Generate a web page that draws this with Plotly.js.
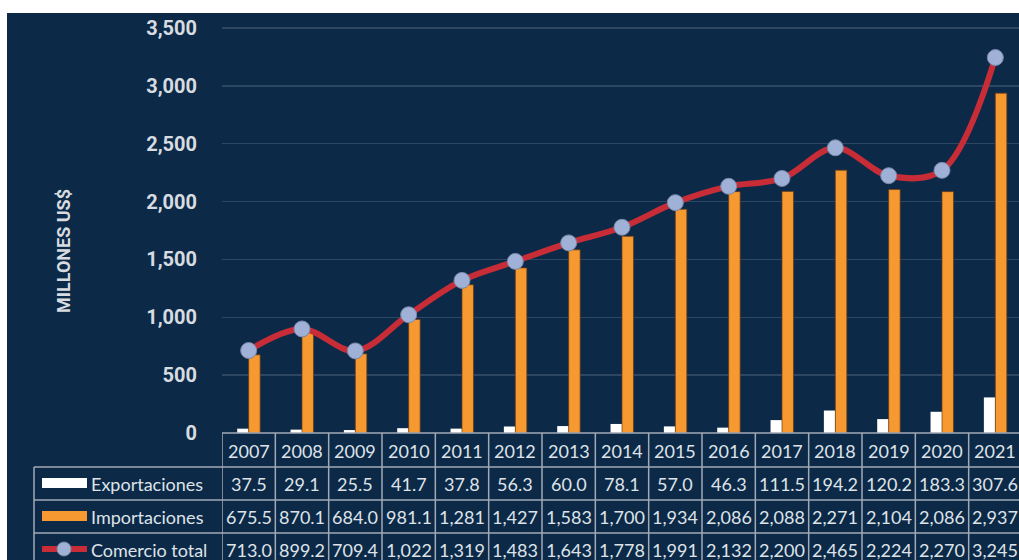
<!DOCTYPE html>
<html>
<head>
<meta charset="utf-8">
<script src="https://cdn.plot.ly/plotly-3.0.1.min.js"></script>
<style>
html,body{margin:0;padding:0;width:1019px;height:560px;overflow:hidden;background:#ffffff;}
#chart{position:absolute;left:7px;top:13px;width:1015px;height:547px;}
</style>
</head>
<body>
<div id="chart"></div>
<script>
const years = ['2007','2008','2009','2010','2011','2012','2013','2014','2015','2016','2017','2018','2019','2020','2021'];
const exportaciones = [37.5,29.1,25.5,41.7,37.8,56.3,60.0,78.1,57.0,46.3,111.5,194.2,120.2,183.3,307.6];
const importaciones = [675.5,870.1,684.0,981.1,1281,1427,1583,1700,1934,2086,2088,2271,2104,2086,2937];
const comercioTotal = [713.0,899.2,709.4,1022,1319,1483,1643,1778,1991,2132,2200,2465,2224,2270,3245];
const yTickVals = [0,500,1000,1500,2000,2500,3000,3500];
const yTickText = ['0','500','1,000','1,500','2,000','2,500','3,000','3,500'];
const rowLabels = ['Exportaciones','Importaciones','Comercio total'];

const BG = 'rgb(12,42,72)';
const ORANGE = 'rgb(245,153,48)';
const RED = 'rgb(200,45,55)';
const DOT = 'rgb(160,177,215)';
const TXT = '#dfe3e8';
const GRIDTBL = 'rgb(160,170,182)';

const W = 1015, H = 547, ML = 215, PW = 800;
const X = p => (p - 7 - ML) / PW;
const Y = p => (H - (p - 13)) / H;

function fmt(v){
  if (v < 1000) return v.toFixed(1);
  return Math.round(v).toLocaleString('en-US');
}

const traces = [
  {type:'bar', name:'Exportaciones', x:years, y:exportaciones,
   marker:{color:'#ffffff'}, hoverinfo:'x+y'},
  {type:'bar', name:'Importaciones', x:years, y:importaciones,
   marker:{color:ORANGE, line:{color:'rgba(110,60,20,0.7)', width:1}}, hoverinfo:'x+y'},
  {type:'scatter', mode:'lines+markers', name:'Comercio total', x:years, y:comercioTotal,
   line:{color:RED, width:6, shape:'spline', smoothing:1},
   marker:{size:16, color:DOT, line:{color:'rgb(120,135,170)', width:1}}}
];

const shapes = [];
const annotations = [];
const rowTops = [433, 467, 500, 533, 566];
const tblFont = {family:'Lato, "Open Sans", sans-serif', size:18, color:TXT};
const axFont = {family:'Roboto, "Liberation Sans", sans-serif', size:20, color:'#d8dce0', weight:'bold'};

// horizontal table lines
shapes.push({type:'line', xref:'paper', yref:'paper', x0:X(222), x1:1.01, y0:Y(433), y1:Y(433), line:{color:GRIDTBL, width:1.5}});
for (let k = 1; k < rowTops.length; k++) {
  shapes.push({type:'line', xref:'paper', yref:'paper', x0:X(34), x1:1.01, y0:Y(rowTops[k]), y1:Y(rowTops[k]), line:{color:GRIDTBL, width:1.5}});
}
// vertical table lines at category boundaries
for (let k = 0; k <= years.length; k++) {
  shapes.push({type:'line', xref:'x', yref:'paper', x0:k-0.5, x1:k-0.5, y0:Y(433), y1:Y(570), line:{color:GRIDTBL, width:1.5}});
}
shapes.push({type:'line', xref:'paper', yref:'paper', x0:X(34), x1:X(34), y0:Y(467), y1:Y(570), line:{color:GRIDTBL, width:1.5}});

// header years (x = category index on the x axis)
years.forEach((yr, i) => {
  annotations.push({xref:'x', yref:'paper', x:i, y:Y(451), text:yr, showarrow:false, font:tblFont, xanchor:'center', yanchor:'middle'});
});
const series = [exportaciones, importaciones, comercioTotal];
const rowCenters = [483.5, 516.5, 549.5];
series.forEach((s, r) => {
  s.forEach((v, i) => {
    annotations.push({xref:'x', yref:'paper', x:i, y:Y(rowCenters[r]), text:fmt(v), showarrow:false, font:tblFont, xanchor:'center', yanchor:'middle'});
  });
  annotations.push({xref:'paper', yref:'paper', x:X(89), y:Y(rowCenters[r]), text:rowLabels[r], showarrow:false, font:tblFont, xanchor:'left', yanchor:'middle'});
});

// legend keys
shapes.push({type:'rect', xref:'paper', yref:'paper', x0:X(42), x1:X(87), y0:Y(478), y1:Y(488), fillcolor:'#ffffff', line:{width:0}});
shapes.push({type:'rect', xref:'paper', yref:'paper', x0:X(42), x1:X(87), y0:Y(511), y1:Y(521), fillcolor:ORANGE, line:{width:0}});
shapes.push({type:'line', xref:'paper', yref:'paper', x0:X(42), x1:X(87), y0:Y(549), y1:Y(549), line:{color:RED, width:6}});
shapes.push({type:'circle', xref:'paper', yref:'paper', x0:X(57), x1:X(71), y0:Y(542), y1:Y(556), fillcolor:DOT, line:{color:'rgb(120,135,170)', width:1}});

// y axis title
annotations.push({xref:'paper', yref:'paper', x:X(63), y:Y(251), text:'MILLONES US$', textangle:-90, showarrow:false,
  font:{family:axFont.family, size:18, color:'#d8dce0', weight:'bold'},
  xanchor:'center', yanchor:'middle'});

const layout = {
  width: W, height: H,
  margin:{l:ML, r:0, t:0, b:0, pad:0},
  paper_bgcolor: BG, plot_bgcolor: BG,
  showlegend:false,
  barmode:'group', bargap:0.57, bargroupgap:0,
  xaxis:{type:'category', range:[-0.5, 14.5], showticklabels:false, showgrid:false, zeroline:false, showline:false, ticks:'', fixedrange:true},
  yaxis:{domain:[Y(433), 1], range:[0, 3630], tickvals:yTickVals, ticktext:yTickText,
    showgrid:true, gridcolor:'rgb(45,70,98)', gridwidth:1.5, zeroline:false, showline:false, ticks:'',
    ticklabelstandoff:24,
    tickfont:axFont,
    fixedrange:true},
  shapes: shapes,
  annotations: annotations
};

Plotly.newPlot('chart', traces, layout, {displayModeBar:false, staticPlot:true});
</script>
</body>
</html>
